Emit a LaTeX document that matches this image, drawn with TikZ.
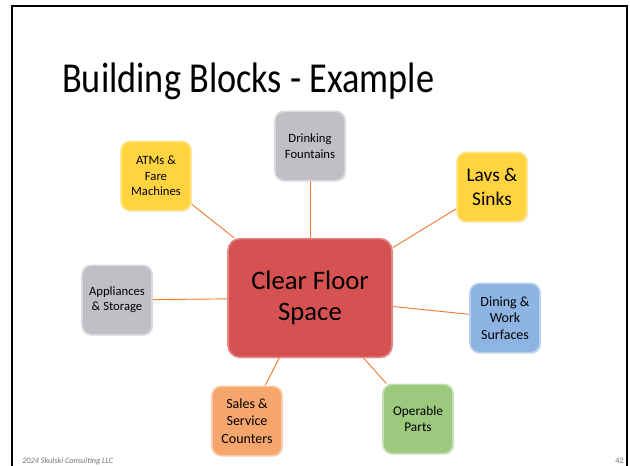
\documentclass[tikz,border=0pt]{standalone}
\usepackage{fontspec}
\setmainfont{Carlito}
\newfontfamily\titlefont[FakeStretch=0.85]{Carlito}
\usetikzlibrary{backgrounds,shadows}

\definecolor{linkorange}{RGB}{237,125,49}
\definecolor{blockgray}{RGB}{192,191,198}
\definecolor{blockyellow}{RGB}{255,212,64}
\definecolor{blockred}{RGB}{214,82,82}
\definecolor{blockblue}{RGB}{141,180,226}
\definecolor{blockorange}{RGB}{246,166,108}
\definecolor{blockgreen}{RGB}{156,201,126}

\tikzset{
  block/.style={rounded corners=7pt, minimum width=52.5pt, minimum height=52pt,
    align=center, inner sep=2pt, line width=1.2pt,
    drop shadow={opacity=0.25, shadow xshift=0.8pt, shadow yshift=-0.8pt}},
  gblock/.style={block, fill=blockgray, draw=blockgray!60!white},
  yblock/.style={block, fill=blockyellow, draw=blockyellow!60!white},
  link/.style={draw=linkorange, line width=0.7pt},
}

\begin{document}
\begin{tikzpicture}[x=0.75pt, y=-0.75pt]
    \useasboundingbox (0,0) rectangle (630,466);
    \draw[line width=1.6pt] (12,470) -- (12,6) -- (627,6) -- (627,470);

    \node[anchor=base west, inner sep=0pt, font=\titlefont\fontsize{32}{38}\selectfont] (title) at (62,93) {Building Blocks - Example};

    \node[block, fill=blockred, draw=blockred!70!white, rounded corners=9pt,
      minimum width=123pt, minimum height=89pt,
      font=\fontsize{20}{23}\selectfont] (floor) at (310,298) {Clear Floor\\Space};

    \node[gblock, font=\fontsize{9.5}{11.5}\selectfont] (fount) at (310,146) {Drinking\\Fountains};
    \node[yblock, font=\fontsize{9.5}{11.5}\selectfont] (atm) at (156,176) {ATMs \&\\Fare\\Machines};
    \node[yblock, font=\fontsize{14.5}{17.5}\selectfont] (lavs) at (492,187) {Lavs \&\\Sinks};
    \node[gblock, font=\fontsize{9.5}{11.5}\selectfont] (appl) at (117,300) {Appliances\\\& Storage};
    \node[block, fill=blockblue, draw=blockblue!60!white, font=\fontsize{10.5}{12.5}\selectfont] (dining) at (505,318) {Dining \&\\Work\\Surfaces};
    \node[block, fill=blockorange, draw=blockorange!60!white, font=\fontsize{10.5}{13}\selectfont] (sales) at (247,421) {Sales \&\\Service\\Counters};
    \node[block, fill=blockgreen, draw=blockgreen!60!white, font=\fontsize{10}{12}\selectfont] (oper) at (418,419) {Operable\\Parts};

    \begin{scope}[on background layer]
      \foreach \b in {fount,atm,lavs,appl,dining,sales,oper}
        \draw[link] (floor) -- (\b);
    \end{scope}

    \node[anchor=base west, inner sep=0pt, font=\fontsize{6.2}{7}\itshape\selectfont, text=black!55] (foot) at (22,463) {2024 Skulski Consulting LLC};
    \node[anchor=base east, inner sep=0pt, font=\fontsize{6.2}{7}\selectfont, text=black!55] (page) at (624,463) {42};
\end{tikzpicture}
\end{document}
